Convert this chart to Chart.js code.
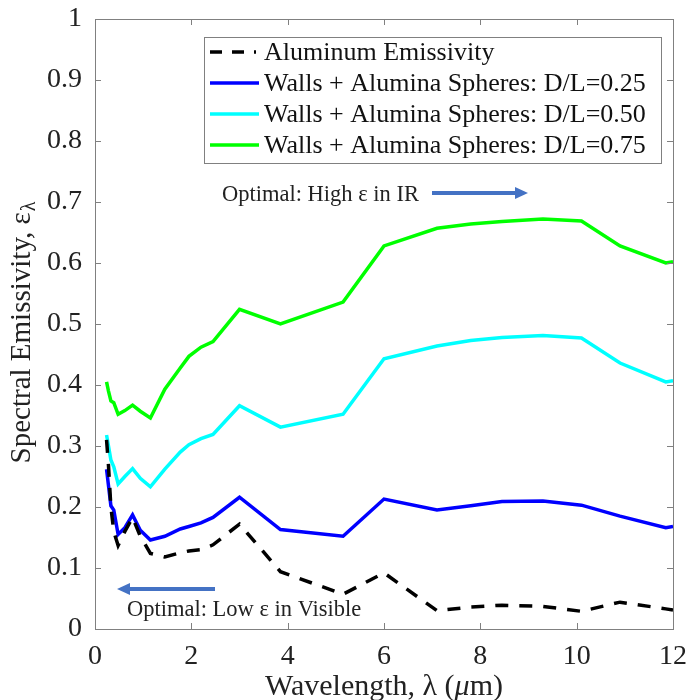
<!DOCTYPE html>
<html>
<head>
<meta charset="utf-8">
<script src="https://cdn.jsdelivr.net/npm/chart.js@4.4.1/dist/chart.umd.min.js"></script>
<style>
  html, body { margin: 0; padding: 0; background: #fff; }
  #plot { display: block; }
</style>
</head>
<body>
<canvas id="plot" width="688" height="700"></canvas>
<script>
// wavelength grid (um) shared by every curve
const wavelength = [0.24, 0.28, 0.33, 0.39, 0.48, 0.62, 0.78, 0.94, 1.15, 1.45, 1.77, 1.95, 2.2, 2.45,
                    3.0, 3.85, 5.15, 6.0, 7.1, 7.8, 8.45, 9.3, 10.1, 10.9, 11.85, 12.0];

const aluminum = [0.31, 0.268, 0.20, 0.16, 0.137, 0.16, 0.183, 0.152, 0.124, 0.118, 0.125, 0.128, 0.130, 0.138,
                  0.172, 0.094, 0.057, 0.092, 0.030, 0.036, 0.039, 0.037, 0.029, 0.044, 0.033, 0.031];
const dl025 = [0.262, 0.235, 0.202, 0.195, 0.155, 0.166, 0.187, 0.162, 0.146, 0.152, 0.164, 0.168, 0.174, 0.183,
               0.216, 0.163, 0.152, 0.213, 0.195, 0.202, 0.209, 0.210, 0.203, 0.185, 0.166, 0.168];
const dl050 = [0.318, 0.300, 0.277, 0.266, 0.238, 0.250, 0.263, 0.247, 0.233, 0.262, 0.290, 0.302, 0.312, 0.319,
               0.366, 0.331, 0.352, 0.443, 0.464, 0.473, 0.478, 0.481, 0.477, 0.436, 0.405, 0.407];
const dl075 = [0.405, 0.390, 0.374, 0.371, 0.352, 0.358, 0.367, 0.357, 0.346, 0.393, 0.428, 0.447, 0.462, 0.471,
               0.524, 0.500, 0.536, 0.628, 0.657, 0.664, 0.668, 0.672, 0.669, 0.628, 0.600, 0.602];

const seriesLabels = [
  'Aluminum Emissivity',
  'Walls + Alumina Spheres: D/L=0.25',
  'Walls + Alumina Spheres: D/L=0.50',
  'Walls + Alumina Spheres: D/L=0.75'
];
const seriesColors = ['#000000', '#0000ff', '#00ffff', '#00ff00'];

const xTicks = [0, 2, 4, 6, 8, 10, 12];
const yTicks = [0, 0.1, 0.2, 0.3, 0.4, 0.5, 0.6, 0.7, 0.8, 0.9, 1];

const SERIF = '"Liberation Serif", "Times New Roman", serif';
const AXIS_GRAY = '#808080';
const ARROW_BLUE = '#4472c4';
const TICK_SIZE = 28;

function toPoints(ys) {
  return wavelength.map((x, i) => ({ x: x, y: ys[i] }));
}

const datasets = [aluminum, dl025, dl050, dl075].map((ys, i) => ({
  label: seriesLabels[i],
  data: toPoints(ys),
  borderColor: seriesColors[i],
  borderWidth: 3.5,
  borderDash: i === 0 ? [13, 11] : [],
  pointRadius: 0,
  tension: 0,
  fill: false
}));

// box around the axes with inward ticks on all four sides
const framePlugin = {
  id: 'frame',
  afterDatasetsDraw(chart) {
    const { ctx, chartArea: a, scales } = chart;
    ctx.save();
    ctx.strokeStyle = AXIS_GRAY;
    ctx.lineWidth = 1;
    ctx.strokeRect(a.left + 0.5, a.top + 0.5, a.right - a.left, a.bottom - a.top);
    const len = 6;
    ctx.beginPath();
    scales.x.ticks.forEach(t => {
      const px = Math.round(scales.x.getPixelForValue(t.value)) + 0.5;
      ctx.moveTo(px, a.bottom); ctx.lineTo(px, a.bottom - len);
      ctx.moveTo(px, a.top); ctx.lineTo(px, a.top + len);
    });
    scales.y.ticks.forEach(t => {
      const py = Math.round(scales.y.getPixelForValue(t.value)) + 0.5;
      ctx.moveTo(a.left, py); ctx.lineTo(a.left + len, py);
      ctx.moveTo(a.right, py); ctx.lineTo(a.right - len, py);
    });
    ctx.stroke();
    ctx.restore();
  }
};

function arrow(ctx, x0, x1, y, color) {
  const dir = Math.sign(x1 - x0);
  const head = 13;
  ctx.save();
  ctx.strokeStyle = color;
  ctx.fillStyle = color;
  ctx.lineWidth = 4;
  ctx.beginPath();
  ctx.moveTo(x0, y);
  ctx.lineTo(x1 - dir * head, y);
  ctx.stroke();
  ctx.beginPath();
  ctx.moveTo(x1, y);
  ctx.lineTo(x1 - dir * head, y - 6);
  ctx.lineTo(x1 - dir * head, y + 6);
  ctx.closePath();
  ctx.fill();
  ctx.restore();
}

// legend box, notes and axis titles
const textPlugin = {
  id: 'texts',
  afterDraw(chart) {
    const ctx = chart.ctx;
    ctx.save();

    // legend
    const bx = 204, by = 37, bw = 457, bh = 126;
    ctx.fillStyle = '#fff';
    ctx.fillRect(bx, by, bw, bh);
    ctx.strokeStyle = AXIS_GRAY;
    ctx.lineWidth = 1;
    ctx.strokeRect(bx + 0.5, by + 0.5, bw, bh);
    ctx.font = '26px ' + SERIF;
    ctx.textBaseline = 'middle';
    ctx.textAlign = 'left';
    chart.data.datasets.forEach((ds, i) => {
      const y = 52 + i * 31;
      ctx.save();
      ctx.strokeStyle = ds.borderColor;
      ctx.lineWidth = ds.borderWidth;
      ctx.setLineDash(ds.borderDash.length ? [12, 10] : []);
      ctx.beginPath();
      ctx.moveTo(210, y);
      ctx.lineTo(ds.borderDash.length ? 256 : 259, y);
      ctx.stroke();
      ctx.restore();
      ctx.fillStyle = '#111';
      ctx.fillText(ds.label, 264, y + 1);
    });

    // notes
    ctx.font = '22.5px ' + SERIF;
    ctx.fillStyle = '#222';
    ctx.fillText('Optimal: High \u03b5 in IR', 222, 195);
    arrow(ctx, 432, 528, 193, ARROW_BLUE);
    ctx.fillText('Optimal: Low \u03b5 in Visible', 127, 610);
    arrow(ctx, 215, 117, 589, ARROW_BLUE);

    // x title, with italic mu
    ctx.fillStyle = '#222';
    const parts = [
      { t: 'Wavelength, \u03bb (', f: '30px ' + SERIF },
      { t: '\u03bc', f: 'italic 30px ' + SERIF },
      { t: 'm)', f: '30px ' + SERIF }
    ];
    let total = 0;
    parts.forEach(p => { ctx.font = p.f; p.w = ctx.measureText(p.t).width; total += p.w; });
    let x = 384 - total / 2;
    parts.forEach(p => { ctx.font = p.f; ctx.fillText(p.t, x, 687); x += p.w; });

    // y title, epsilon with lambda subscript
    ctx.translate(22, 333);
    ctx.rotate(-Math.PI / 2);
    ctx.font = '29px ' + SERIF;
    const main = 'Spectral Emissivity, \u03b5';
    const mw = ctx.measureText(main).width;
    ctx.font = '20px ' + SERIF;
    const sw = ctx.measureText('\u03bb').width;
    const start = -(mw + sw) / 2;
    ctx.font = '29px ' + SERIF;
    ctx.fillText(main, start, 0);
    ctx.font = '20px ' + SERIF;
    ctx.fillText('\u03bb', start + mw + 1, 8);

    ctx.restore();
  }
};

function fmtY(v) {
  const r = Math.round(v * 10) / 10;
  if (r === 0) return '0';
  if (r === 1) return '1';
  return r.toFixed(1);
}

new Chart(document.getElementById('plot'), {
  type: 'line',
  data: { datasets: datasets },
  options: {
    responsive: false,
    animation: false,
    layout: { padding: { top: 19, right: 15, left: 0, bottom: 0 } },
    plugins: { legend: { display: false }, tooltip: { enabled: false } },
    scales: {
      x: {
        type: 'linear',
        min: xTicks[0],
        max: xTicks[xTicks.length - 1],
        afterBuildTicks: s => { s.ticks = xTicks.map(v => ({ value: v })); },
        ticks: { font: { family: SERIF, size: TICK_SIZE }, color: '#222', padding: 11, maxRotation: 0 },
        grid: { display: false, drawTicks: false },
        border: { display: false },
        // keep the plot box fixed; tick labels may hang over the edges
        afterFit: s => { s.height = 71; s.paddingLeft = 0; s.paddingRight = 0; }
      },
      y: {
        min: yTicks[0],
        max: yTicks[yTicks.length - 1],
        afterBuildTicks: s => { s.ticks = yTicks.map(v => ({ value: v })); },
        ticks: { font: { family: SERIF, size: TICK_SIZE }, color: '#222', padding: 13, callback: fmtY },
        grid: { display: false, drawTicks: false },
        border: { display: false },
        afterFit: s => { s.width = 95; s.paddingTop = 0; s.paddingBottom = 0; }
      }
    }
  },
  plugins: [framePlugin, textPlugin]
});
</script>
</body>
</html>
